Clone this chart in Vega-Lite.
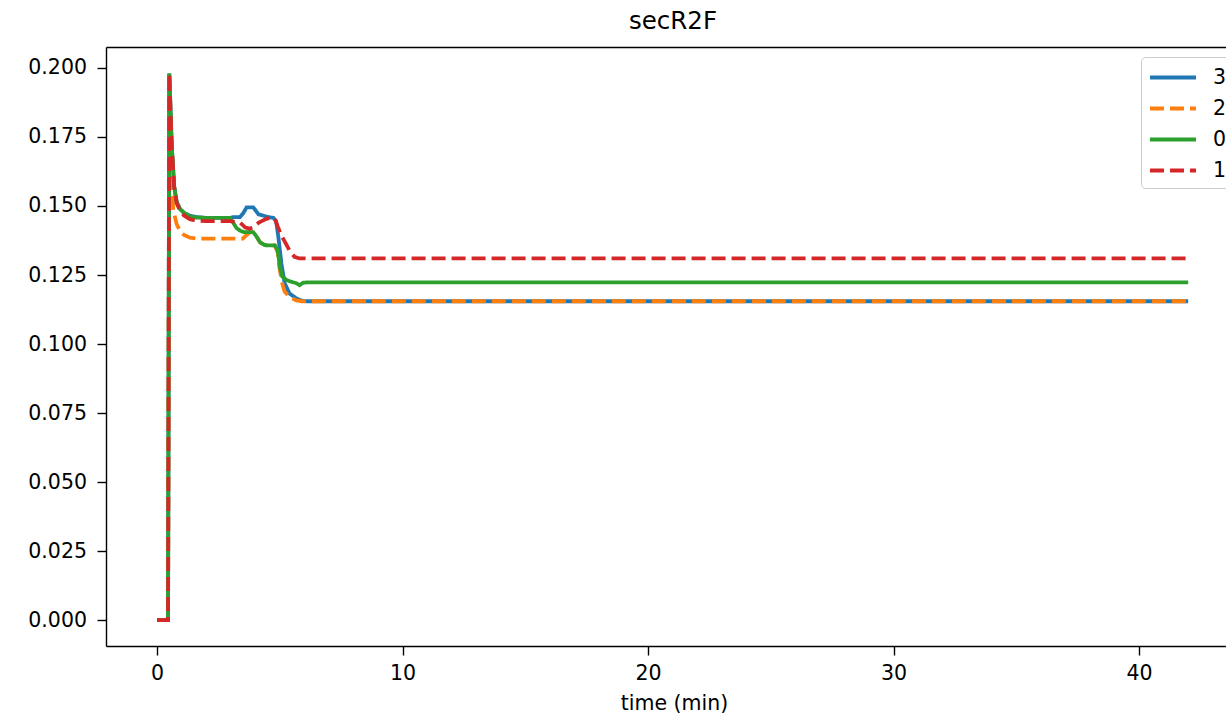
{
  "$schema": "https://vega.github.io/schema/vega-lite/v6.json",
  "autosize": {"type": "none"},
  "padding": {"left": 106, "top": 47, "right": 0, "bottom": 73},
  "width": 1120,
  "height": 599,
  "background": "white",
  "title": {"text": "secR2F", "fontSize": 24.5, "font": "DejaVu Sans", "fontWeight": "normal", "color": "black", "offset": 13, "dx": 7},
  "config": {
    "view": {"stroke": null},
    "axis": {"grid": false, "domainColor": "black", "domainWidth": 1.4, "tickColor": "black", "tickWidth": 1.4, "tickSize": 9, "labelFont": "DejaVu Sans", "labelFontSize": 20.5, "labelColor": "black", "titleFont": "DejaVu Sans", "titleFontSize": 20.5, "titleFontWeight": "normal", "titleColor": "black"}
  },
  "data": {"values": [
    {"s":"3","t":0,"v":0},{"s":"3","t":0.45,"v":0},{"s":"3","t":0.5,"v":0.198},{"s":"3","t":0.6,"v":0.172},{"s":"3","t":0.7,"v":0.157},{"s":"3","t":0.8,"v":0.1515},{"s":"3","t":0.93,"v":0.149},{"s":"3","t":1.1,"v":0.1475},{"s":"3","t":1.34,"v":0.1465},{"s":"3","t":1.6,"v":0.146},{"s":"3","t":2.0,"v":0.1457},{"s":"3","t":2.97,"v":0.1457},{"s":"3","t":3.1,"v":0.146},{"s":"3","t":3.38,"v":0.146},{"s":"3","t":3.52,"v":0.1475},{"s":"3","t":3.65,"v":0.1495},{"s":"3","t":3.92,"v":0.1495},{"s":"3","t":4.05,"v":0.148},{"s":"3","t":4.13,"v":0.147},{"s":"3","t":4.33,"v":0.1465},{"s":"3","t":4.53,"v":0.146},{"s":"3","t":4.74,"v":0.1457},{"s":"3","t":4.85,"v":0.1445},{"s":"3","t":4.94,"v":0.139},{"s":"3","t":5.07,"v":0.129},{"s":"3","t":5.2,"v":0.122},{"s":"3","t":5.4,"v":0.1183},{"s":"3","t":5.68,"v":0.1165},{"s":"3","t":5.89,"v":0.1157},{"s":"3","t":6.1,"v":0.1155},{"s":"3","t":42,"v":0.1155},
    {"s":"2","t":0,"v":0},{"s":"2","t":0.45,"v":0},{"s":"2","t":0.5,"v":0.198},{"s":"2","t":0.6,"v":0.16},{"s":"2","t":0.66,"v":0.1486},{"s":"2","t":0.8,"v":0.1435},{"s":"2","t":0.93,"v":0.141},{"s":"2","t":1.1,"v":0.1395},{"s":"2","t":1.34,"v":0.1385},{"s":"2","t":1.6,"v":0.1382},{"s":"2","t":3.5,"v":0.1382},{"s":"2","t":3.65,"v":0.1395},{"s":"2","t":3.78,"v":0.1405},{"s":"2","t":3.92,"v":0.1405},{"s":"2","t":4.05,"v":0.139},{"s":"2","t":4.2,"v":0.1368},{"s":"2","t":4.4,"v":0.1358},{"s":"2","t":4.8,"v":0.1357},{"s":"2","t":4.92,"v":0.133},{"s":"2","t":5.0,"v":0.127},{"s":"2","t":5.1,"v":0.122},{"s":"2","t":5.2,"v":0.119},{"s":"2","t":5.4,"v":0.117},{"s":"2","t":5.68,"v":0.1158},{"s":"2","t":5.9,"v":0.1155},{"s":"2","t":42,"v":0.1155},
    {"s":"0","t":0,"v":0},{"s":"0","t":0.45,"v":0},{"s":"0","t":0.5,"v":0.198},{"s":"0","t":0.6,"v":0.172},{"s":"0","t":0.7,"v":0.157},{"s":"0","t":0.8,"v":0.1515},{"s":"0","t":0.93,"v":0.149},{"s":"0","t":1.1,"v":0.1475},{"s":"0","t":1.34,"v":0.1462},{"s":"0","t":1.6,"v":0.1458},{"s":"0","t":2.0,"v":0.1457},{"s":"0","t":2.97,"v":0.1457},{"s":"0","t":3.1,"v":0.144},{"s":"0","t":3.24,"v":0.142},{"s":"0","t":3.4,"v":0.141},{"s":"0","t":3.55,"v":0.1405},{"s":"0","t":3.92,"v":0.1405},{"s":"0","t":4.05,"v":0.139},{"s":"0","t":4.2,"v":0.1368},{"s":"0","t":4.4,"v":0.1358},{"s":"0","t":4.8,"v":0.1357},{"s":"0","t":4.92,"v":0.134},{"s":"0","t":5.0,"v":0.128},{"s":"0","t":5.1,"v":0.1245},{"s":"0","t":5.27,"v":0.1232},{"s":"0","t":5.45,"v":0.1226},{"s":"0","t":5.68,"v":0.122},{"s":"0","t":5.81,"v":0.1213},{"s":"0","t":5.95,"v":0.1222},{"s":"0","t":6.1,"v":0.1223},{"s":"0","t":42,"v":0.1223},
    {"s":"1","t":0,"v":0},{"s":"1","t":0.45,"v":0},{"s":"1","t":0.5,"v":0.198},{"s":"1","t":0.6,"v":0.172},{"s":"1","t":0.7,"v":0.157},{"s":"1","t":0.8,"v":0.151},{"s":"1","t":0.93,"v":0.1485},{"s":"1","t":1.1,"v":0.1465},{"s":"1","t":1.34,"v":0.1452},{"s":"1","t":1.6,"v":0.1447},{"s":"1","t":2.0,"v":0.1445},{"s":"1","t":3.0,"v":0.1445},{"s":"1","t":3.38,"v":0.144},{"s":"1","t":3.6,"v":0.1422},{"s":"1","t":3.78,"v":0.1418},{"s":"1","t":3.95,"v":0.1425},{"s":"1","t":4.15,"v":0.144},{"s":"1","t":4.32,"v":0.1448},{"s":"1","t":4.5,"v":0.1455},{"s":"1","t":4.8,"v":0.1455},{"s":"1","t":4.92,"v":0.1425},{"s":"1","t":5.07,"v":0.1392},{"s":"1","t":5.2,"v":0.1372},{"s":"1","t":5.4,"v":0.1338},{"s":"1","t":5.6,"v":0.1316},{"s":"1","t":5.8,"v":0.131},{"s":"1","t":42,"v":0.131}
  ]},
  "encoding": {
    "y": {"field": "v", "type": "quantitative", "scale": {"domain": [-0.0094, 0.2076], "nice": false, "zero": false},
      "axis": {"values": [0, 0.025, 0.05, 0.075, 0.1, 0.125, 0.15, 0.175, 0.2], "format": ".3f", "title": null, "labelPadding": 10.5}},
    "color": {"field": "s", "type": "nominal", "scale": {"domain": ["3", "2", "0", "1"], "range": ["#1f77b4", "#ff7f0e", "#2ca02c", "#d62728"]},
      "legend": {"orient": "none", "legendX": 1035, "legendY": 10, "title": null, "fillColor": "white", "strokeColor": "#cccccc", "cornerRadius": 4, "padding": 7, "symbolType": "M-1,0H3", "symbolSize": 529, "symbolStrokeWidth": 3.8, "labelFontSize": 20.5, "labelFont": "DejaVu Sans", "labelColor": "black", "labelOffset": 38, "rowPadding": 7}},
    "strokeDash": {"field": "s", "type": "nominal", "scale": {"domain": ["3", "2", "0", "1"], "range": [[1, 0], [14, 6], [1, 0], [14, 6]]}}
  },
  "layer": [
    {"transform": [{"filter": "datum.s === '3'"}], "mark": {"type": "line", "strokeWidth": 3.8, "clip": true},
      "encoding": {"x": {"field": "t", "type": "quantitative", "scale": {"domain": [-2.077, 43.54], "nice": false, "zero": false},
        "axis": {"orient": "bottom", "values": [0, 10, 20, 30, 40], "format": "d", "title": "time (min)", "labelPadding": 8, "titleX": 568, "titleY": 63, "titleBaseline": "alphabetic"}}}},
    {"transform": [{"filter": "datum.s === '2'"}], "mark": {"type": "line", "strokeWidth": 3.8, "clip": true},
      "encoding": {"x": {"field": "t", "type": "quantitative",
        "axis": {"orient": "top", "labels": false, "ticks": false, "title": null}}}},
    {"transform": [{"filter": "datum.s === '0'"}], "mark": {"type": "line", "strokeWidth": 3.8, "clip": true},
      "encoding": {"x": {"field": "t", "type": "quantitative", "axis": null}}},
    {"transform": [{"filter": "datum.s === '1'"}], "mark": {"type": "line", "strokeWidth": 3.8, "clip": true},
      "encoding": {"x": {"field": "t", "type": "quantitative", "axis": null}}}
  ],
  "resolve": {"axis": {"x": "independent"}}
}
